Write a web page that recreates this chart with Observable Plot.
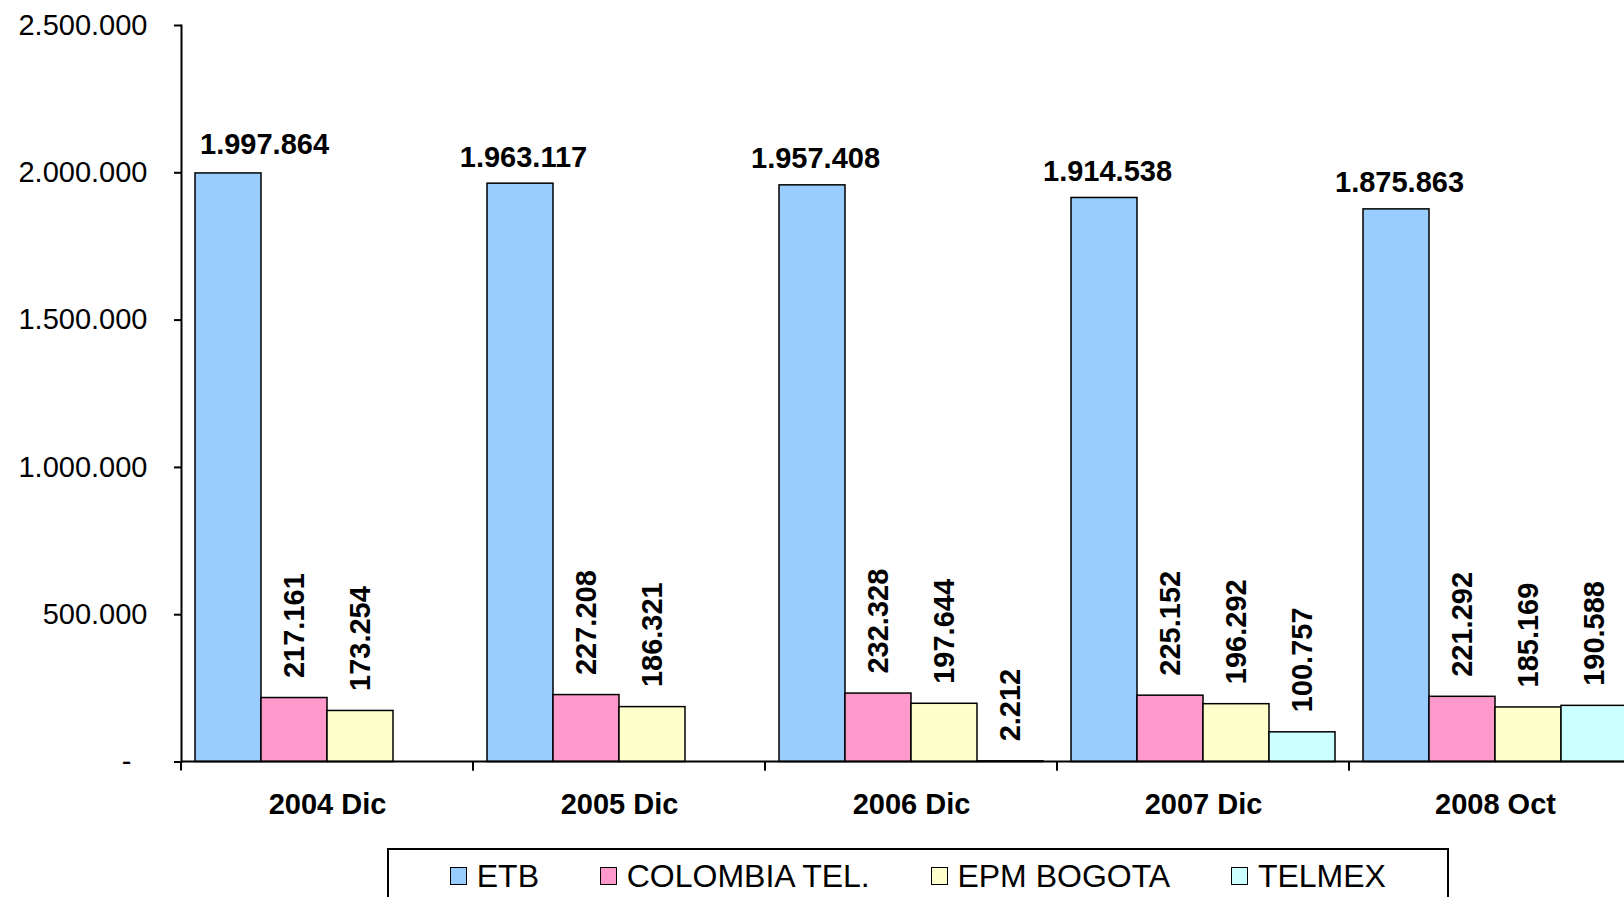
<!DOCTYPE html>
<html>
<head>
<meta charset="utf-8">
<script src="https://cdn.jsdelivr.net/npm/d3@7"></script>
<script src="https://cdn.jsdelivr.net/npm/@observablehq/plot@0.6"></script>
<style>
html, body { margin: 0; padding: 0; background: #fff; overflow: hidden; width: 1624px; height: 897px; }
#chart { position: absolute; left: 0; top: 0; width: 1641px; }
#chart svg { max-width: none !important; width: 1641px !important; height: 848px !important; }
#legend {
  position: absolute; left: 387px; top: 848px; width: 1062px; height: 80px;
  border: 2px solid #000; box-sizing: border-box; background: #fff;
  display: flex; justify-content: center; align-items: flex-start; gap: 61px;
  padding-top: 9.6px;
  font-family: "Liberation Sans", Arial, Helvetica, sans-serif; font-size: 32px; line-height: 32px; color: #000;
}
.item { display: flex; align-items: center; white-space: nowrap; }
.sw { width: 15px; height: 16px; border: 1.5px solid #000; margin-right: 9.7px; }
</style>
</head>
<body>
<div id="chart"></div>
<div id="legend"></div>
<script>
const categories = ["2004 Dic", "2005 Dic", "2006 Dic", "2007 Dic", "2008 Oct"];
const series = ["ETB", "COLOMBIA TEL.", "EPM BOGOTA", "TELMEX"];
const etb = [1997864, 1963117, 1957408, 1914538, 1875863];
const colombiaTel = [217161, 227208, 232328, 225152, 221292];
const epmBogota = [173254, 186321, 197644, 196292, 185169];
const telmex = [null, null, 2212, 100757, 190588];
const colors = ["#99CCFF", "#FF99CC", "#FFFFCC", "#CCFFFF"];
const yTicks = [0, 500000, 1000000, 1500000, 2000000, 2500000];

const valuesBySeries = [etb, colombiaTel, epmBogota, telmex];
const data = [];
categories.forEach((cat, i) => {
  series.forEach((s, j) => {
    const v = valuesBySeries[j][i];
    if (v != null) data.push({cat, series: s, value: v});
  });
});

const fmt = d3.formatLocale({decimal: ",", thousands: ".", grouping: [3], currency: ["", ""]}).format(",");
const tickFmt = d => d === 0 ? "-\u00a0\u00a0" : fmt(d);

const etbData = data.filter(d => d.series === "ETB");
const otherData = data.filter(d => d.series !== "ETB");

// x-axis line and category boundary ticks, drawn in each facet from the scales
function xAxisLine(index, scales, values, dims) {
  const ns = "http://www.w3.org/2000/svg";
  const g = document.createElementNS(ns, "g");
  const r = scales.x.range ? scales.x.range() : [dims.marginLeft, dims.width - dims.marginRight];
  const y0 = scales.y(0);
  const base = document.createElementNS(ns, "line");
  base.setAttribute("x1", r[0]); base.setAttribute("x2", r[1]);
  base.setAttribute("y1", y0); base.setAttribute("y2", y0);
  base.setAttribute("stroke", "#000"); base.setAttribute("stroke-width", 2);
  g.appendChild(base);
  for (const xx of r) {
    const t = document.createElementNS(ns, "line");
    t.setAttribute("x1", xx); t.setAttribute("x2", xx);
    t.setAttribute("y1", y0); t.setAttribute("y2", y0 + 9);
    t.setAttribute("stroke", "#000"); t.setAttribute("stroke-width", 2);
    g.appendChild(t);
  }
  return g;
}

const chart = Plot.plot({
  width: 1641,
  height: 848,
  marginLeft: 181,
  marginRight: 0,
  marginTop: 25,
  marginBottom: 86.5,
  style: {fontFamily: "'Liberation Sans', Arial, Helvetica, sans-serif", background: "#fff", color: "#000", maxWidth: "none"},
  fx: {domain: categories, padding: 0},
  x: {domain: series, paddingInner: 0, paddingOuter: 0.186, axis: null},
  y: {domain: [0, 2500000]},
  color: {domain: series, range: colors},
  marks: [
    Plot.barY(data, {fx: "cat", x: "series", y: "value", fill: "series", stroke: "#000", strokeWidth: 1.5, inset: 0}),
    Plot.frame({anchor: "left", facetAnchor: "left", stroke: "#000", strokeWidth: 2}),
    xAxisLine,
    Plot.axisY({ticks: yTicks, tickFormat: tickFmt, tickSize: 7, tickPadding: 27, fontSize: 29, strokeWidth: 2, label: null}),
    Plot.axisFx({anchor: "bottom", tickSize: 0, tickPadding: 31, fontSize: 29, fontWeight: "bold", label: null}),
    Plot.text(etbData.filter(d => d.cat === categories[0]), {fx: "cat", x: "series", y: "value", text: d => fmt(d.value), dy: -19, dx: 36, lineAnchor: "bottom", fontSize: 29, fontWeight: "bold", fill: "#000"}),
    Plot.text(etbData.filter(d => d.cat !== categories[0]), {fx: "cat", x: "series", y: "value", text: d => fmt(d.value), dy: -17, dx: 3, lineAnchor: "bottom", fontSize: 29, fontWeight: "bold", fill: "#000"}),
    Plot.text(otherData, {fx: "cat", x: "series", y: "value", text: d => fmt(d.value), rotate: -90, textAnchor: "start", lineAnchor: "middle", dy: -20, fontSize: 29, fontWeight: "bold", fill: "#000"})
  ]
});
document.getElementById("chart").appendChild(chart);

const legend = document.getElementById("legend");
series.forEach((s, i) => {
  const item = document.createElement("div");
  item.className = "item";
  const sw = document.createElement("div");
  sw.className = "sw";
  sw.style.background = colors[i];
  const label = document.createElement("span");
  label.textContent = s;
  item.appendChild(sw);
  item.appendChild(label);
  legend.appendChild(item);
});
</script>
</body>
</html>
